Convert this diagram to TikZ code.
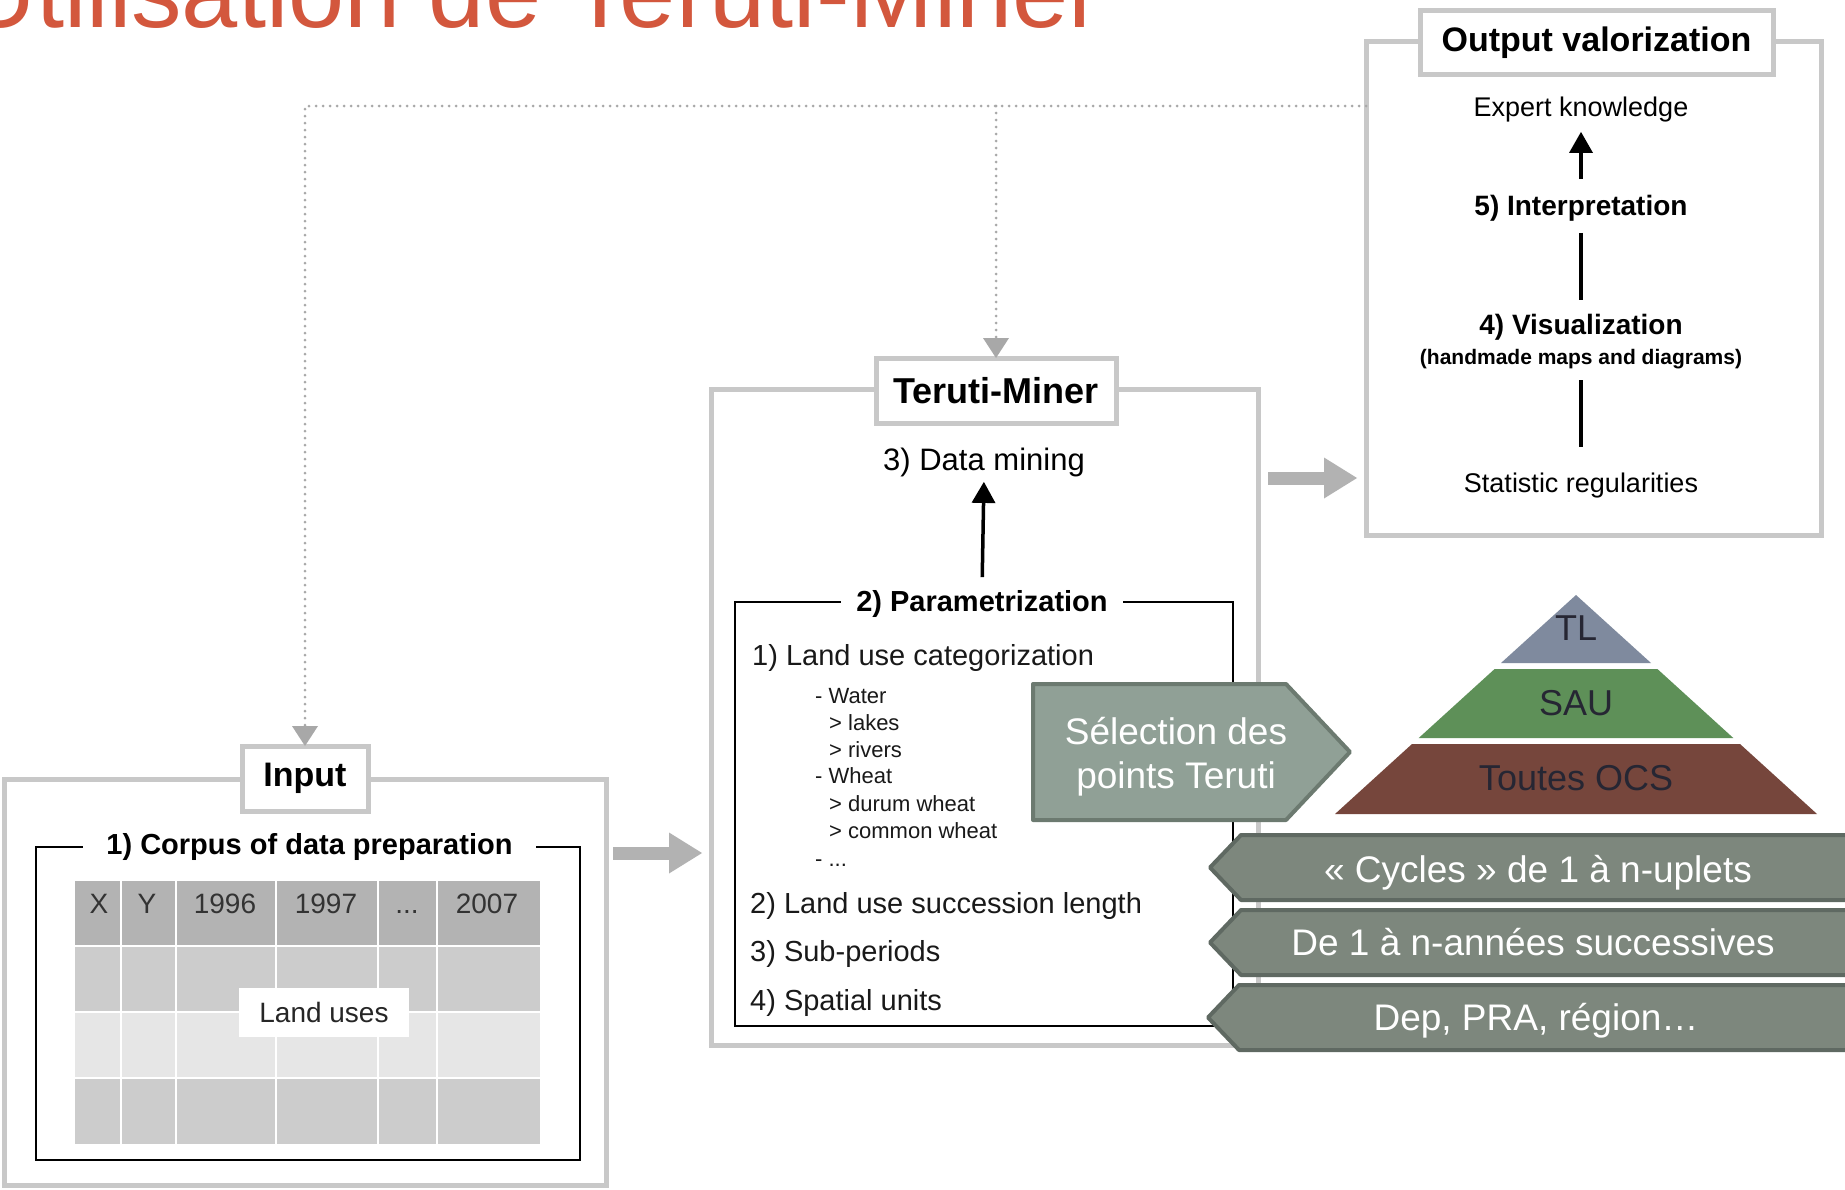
\documentclass[tikz,border=0pt]{standalone}
\usepackage{fontspec}
\setmainfont{Liberation Sans}
\usetikzlibrary{arrows.meta,calc}
\definecolor{framegray}{HTML}{C8C8C8}
\definecolor{dotgray}{HTML}{A8A8A8}
\definecolor{arrgray}{HTML}{B2B2B2}
\definecolor{titlered}{HTML}{D3573D}
\definecolor{selfill}{HTML}{90A096}
\definecolor{seldraw}{HTML}{6C7A70}
\definecolor{bandfill}{HTML}{7D877D}
\definecolor{banddraw}{HTML}{5F6962}
\definecolor{tlcol}{HTML}{7F8A9E}
\definecolor{saucol}{HTML}{5E9058}
\definecolor{ocscol}{HTML}{76463C}
\definecolor{pyrtext}{HTML}{262633}
\definecolor{hdrcol}{HTML}{B3B3B3}
\definecolor{rowa}{HTML}{CCCCCC}
\definecolor{rowb}{HTML}{E6E6E6}
\newcommand{\myfs}[2]{\fontsize{#1}{#2}\selectfont}
\begin{document}
\begin{tikzpicture}[x=1pt,y=-1pt,
  grayframe/.style={draw=framegray,line width=5pt,inner sep=0pt,outer sep=0pt},
  titlebox/.style={draw=framegray,line width=5pt,fill=white,inner sep=0pt,outer sep=0pt},
  blackframe/.style={draw=black,line width=1.8pt,inner sep=0pt,outer sep=0pt},
  boxlabel/.style={fill=white,inner ysep=0pt,outer sep=0pt,font=\myfs{29}{35}\bfseries},
  dotline/.style={draw=dotgray,line width=3pt,line cap=round,dash pattern=on 0pt off 7pt},
  dottip/.style={-{Triangle[width=26pt,length=20pt,line width=0pt]}},
  blkarrow/.style={draw=black,line width=3.5pt,-{Triangle[width=24pt,length=21pt,line width=0pt]}},
  blkline/.style={draw=black,line width=3.5pt},
  blockarrow/.style={draw=arrgray,line width=13pt,-{Triangle[width=41pt,length=33pt,line width=0pt]}},
  selshape/.style={fill=selfill,draw=seldraw,line width=4pt,line join=round},
  bandshape/.style={fill=bandfill,draw=banddraw,line width=4pt,line join=round},
  bandtext/.style={inner sep=0pt,text=white,font=\myfs{37}{44}},
  pyrtxt/.style={inner sep=0pt,text=pyrtext,font=\myfs{36}{42}},
  hdr/.style={inner sep=0pt,anchor=base,text=black!80,font=\myfs{28}{34}},
  item/.style={inner sep=0pt,anchor=base west,font=\myfs{29}{35},text=black!90},
  subitem/.style={inner sep=0pt,anchor=base west,font=\myfs{22}{26},text=black!90},
  outtxt/.style={inner sep=0pt,outer sep=0pt,anchor=base,text=black},
]
\useasboundingbox (0,0) rectangle (1845,1189);
\clip (0,0) rectangle (1845,1189);
\fill[white] (0,0) rectangle (1845,1189);

% title
\node[anchor=base west,inner sep=0pt,text=titlered,font=\myfs{101}{112}] (title) at (-37,27) {Utilisation de Teruti-Miner};

% frames
\node[grayframe,minimum width=455pt,minimum height=494pt] (outframe) at (1593.5,288) {};
\node[grayframe,minimum width=547pt,minimum height=656pt] (tframe) at (984.5,717) {};
\node[grayframe,minimum width=602pt,minimum height=406pt] (inframe) at (305,982) {};

% title boxes
\node[titlebox,minimum width=353pt,minimum height=64pt,font=\myfs{34}{40}\bfseries] (outbox) at (1596.5,42.5) {Output valorization};
\node[titlebox,minimum width=240pt,minimum height=65pt,font=\myfs{36}{42}\bfseries] (tbox) at (996,390.5) {Teruti-Miner};
\node[titlebox,minimum width=126pt,minimum height=65pt,font=\myfs{34}{40}\bfseries] (inbox) at (305,778.5) {Input};

% dotted feedback connectors
\coordinate (dcorner) at (305,106);
\draw[dotline,dottip] (outframe.west |- 0,106) -- (dcorner) -- (inbox.north);
\draw[dotline,dottip] (tbox.north |- 0,106) -- (tbox.north);

% output contents
\node[outtxt,font=\myfs{27}{32}] (expert) at (1581,116) {Expert knowledge};
\node[outtxt,font=\myfs{28}{33}\bfseries] (interp) at (1581,215) {5) Interpretation};
\node[outtxt,font=\myfs{28}{33}\bfseries] (visual) at (1581,334) {4) Visualization};
\node[outtxt,font=\myfs{21}{25}\bfseries] (handmade) at (1581,364) {(handmade maps and diagrams)};
\node[outtxt,font=\myfs{27}{32}] (stat) at (1581,492) {Statistic regularities};
\draw[blkarrow,shorten <=15.6pt,shorten >=10.3pt] (interp.north) -- (expert.south);
\draw[blkline,shorten <=12pt,shorten >=13.6pt] (interp.south) -- (visual.north);
\draw[blkline,shorten <=11.6pt,shorten >=25.3pt] (handmade.south) -- (stat.north);

% block arrows
\draw[blockarrow,shorten <=7pt,shorten >=9pt] (inframe.east |- 0,853) -- (tframe.west |- 0,853);
\draw[blockarrow,shorten <=10pt,shorten >=9pt] (tframe.east |- 0,478) -- (outframe.west |- 0,478);

% Teruti-Miner contents
\node[outtxt,font=\myfs{31}{36}] (datamining) at (984,470) {3) Data mining};
\node[blackframe,minimum width=498pt,minimum height=424pt] (parambox) at (984,814) {};
\node[boxlabel,inner xsep=15pt] (paramlbl) at (982,604) {2) Parametrization};
\draw[blkarrow,shorten <=13.4pt,shorten >=5.5pt] (paramlbl.north) -- (datamining.south);

\node[item] (p1) at (752,665) {1) Land use categorization};
\node[subitem] (s1) at (815,703) {- Water};
\node[subitem] (s2) at (829,730) {> lakes};
\node[subitem] (s3) at (829,757) {> rivers};
\node[subitem] (s4) at (815,783) {- Wheat};
\node[subitem] (s5) at (829,811) {> durum wheat};
\node[subitem] (s6) at (829,838) {> common wheat};
\node[subitem] (s7) at (815,866) {- ...};
\node[item] (p2) at (750,913) {2) Land use succession length};
\node[item] (p3) at (750,961) {3) Sub-periods};
\node[item] (p4) at (750,1010) {4) Spatial units};

% Input contents
\node[blackframe,minimum width=544pt,minimum height=313pt] (corpusbox) at (308,1003.5) {};
\node[boxlabel,inner xsep=23pt] (corpuslbl) at (309.5,847) {1) Corpus of data preparation};
\fill[hdrcol] (75,881) rectangle (540,946);
\fill[rowa] (75,946) rectangle (540,1012);
\fill[rowb] (75,1012) rectangle (540,1078);
\fill[rowa] (75,1078) rectangle (540,1144);
\foreach \xx in {121,176,276,378,437} \draw[white,line width=2.5pt] (\xx,881) -- (\xx,1144);
\foreach \yy in {946,1012,1078} \draw[white,line width=2.5pt] (75,\yy) -- (540,\yy);
\node[hdr] (hx) at (99,913) {X};
\node[hdr] (hy) at (147,913) {Y};
\node[hdr] (h96) at (225,913) {1996};
\node[hdr] (h97) at (326,913) {1997};
\node[hdr] (hdots) at (407,913) {...};
\node[hdr] (h07) at (487,913) {2007};
\node[fill=white,inner sep=0pt,minimum width=170pt,minimum height=49pt,font=\myfs{28}{34},text=black!85] (landuses) at (324,1012.5) {Land uses};

% Selection arrow
\draw[selshape] (1033,684) -- (1286,684) -- (1350,752) -- (1286,820) -- (1033,820) -- cycle;
\node[align=center,inner sep=0pt,text=white,font=\myfs{37}{44}] (sel) at (1176,757) {Sélection des\\points Teruti};

% pyramid
\fill[tlcol] (1576,595) -- (1651,663) -- (1501,663) -- cycle;
\fill[saucol] (1494.6,669) -- (1657.4,669) -- (1733.3,738) -- (1418.7,738) -- cycle;
\fill[ocscol] (1412,744) -- (1740,744) -- (1817,814) -- (1335,814) -- cycle;
\node[pyrtxt,anchor=base] (tl) at (1576,640) {TL};
\node[pyrtxt,anchor=base] (sau) at (1576,715) {SAU};
\node[pyrtxt,anchor=base] (ocs) at (1576,790) {Toutes OCS};

% bands
\draw[bandshape] (1870,835) -- (1241,835) -- (1210,867.5) -- (1241,900) -- (1870,900) -- cycle;
\draw[bandshape] (1870,910) -- (1241,910) -- (1210,942.5) -- (1241,975) -- (1870,975) -- cycle;
\draw[bandshape] (1870,985) -- (1239,985) -- (1208,1017.5) -- (1239,1050) -- (1870,1050) -- cycle;
\node[bandtext,anchor=base] (b1) at (1538,882) {« Cycles » de 1 à n-uplets};
\node[bandtext,anchor=base] (b2) at (1533,955) {De 1 à n-années successives};
\node[bandtext,anchor=base] (b3) at (1536,1030) {Dep, PRA, région…};
\end{tikzpicture}
\end{document}
